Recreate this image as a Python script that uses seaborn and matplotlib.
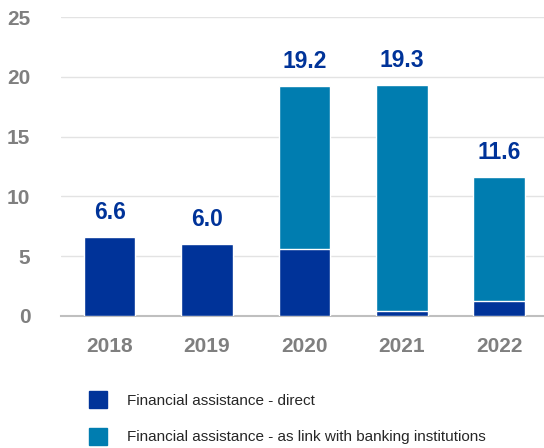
import pandas as pd
import matplotlib.pyplot as plt
import seaborn as sns
from matplotlib.patches import Patch

years = ['2018', '2019', '2020', '2021', '2022']
direct = [6.6, 6.0, 5.6, 0.4, 1.2]
totals = [6.6, 6.0, 19.2, 19.3, 11.6]
total_labels = ['6.6', '6.0', '19.2', '19.3', '11.6']

c_direct = '#003399'
c_link = '#007db0'

sns.set_theme(style='white')
plt.rcParams['font.family'] = ['Liberation Sans', 'DejaVu Sans']

df = pd.DataFrame({'year': years, 'direct': direct, 'total': totals})

fig = plt.figure(figsize=(5.44, 4.48), dpi=100)
ax = fig.add_axes([0.112, 0.295, 0.888, 0.667])

# total bar (link part on top), then the direct part over it
sns.barplot(data=df, x='year', y='total', color=c_link, width=0.53,
            saturation=1, ax=ax, zorder=2)
sns.barplot(data=df, x='year', y='direct', color=c_direct, width=0.53,
            saturation=1, ax=ax, zorder=3)

for i, (t, lab) in enumerate(zip(totals, total_labels)):
    ax.text(i, t + 1.1, lab, ha='center', va='bottom', color=c_direct,
            fontsize=16.5, fontweight='bold')

ax.set_ylim(0, 25)
ax.set_xlim(-0.5, 4.46)
ax.set_yticks([0, 5, 10, 15, 20, 25])
ax.yaxis.grid(True, color='#e3e3e3', linewidth=1, zorder=0)
ax.set_axisbelow(True)
ax.set_xlabel('')
ax.set_ylabel('')
for s in ['top', 'right', 'left']:
    ax.spines[s].set_visible(False)
ax.spines['bottom'].set_color('#bfbfbf')
ax.spines['bottom'].set_linewidth(1.5)
ax.tick_params(axis='both', length=0, labelsize=15, labelcolor='#7f7f7f')
ax.tick_params(axis='x', pad=15)
ax.tick_params(axis='y', pad=22)
for lab in ax.get_xticklabels() + ax.get_yticklabels():
    lab.set_fontweight('bold')

handles = [Patch(color=c_direct, label='Financial assistance - direct'),
           Patch(color=c_link, label='Financial assistance - as link with banking institutions')]
fig.legend(handles=handles, loc='upper left', bbox_to_anchor=(0.152, 0.14),
           frameon=False, fontsize=11, handlelength=1.2, handleheight=1.3,
           handletextpad=1.3, labelspacing=1.3, borderaxespad=0)

fig.savefig('out.png', dpi=100)
